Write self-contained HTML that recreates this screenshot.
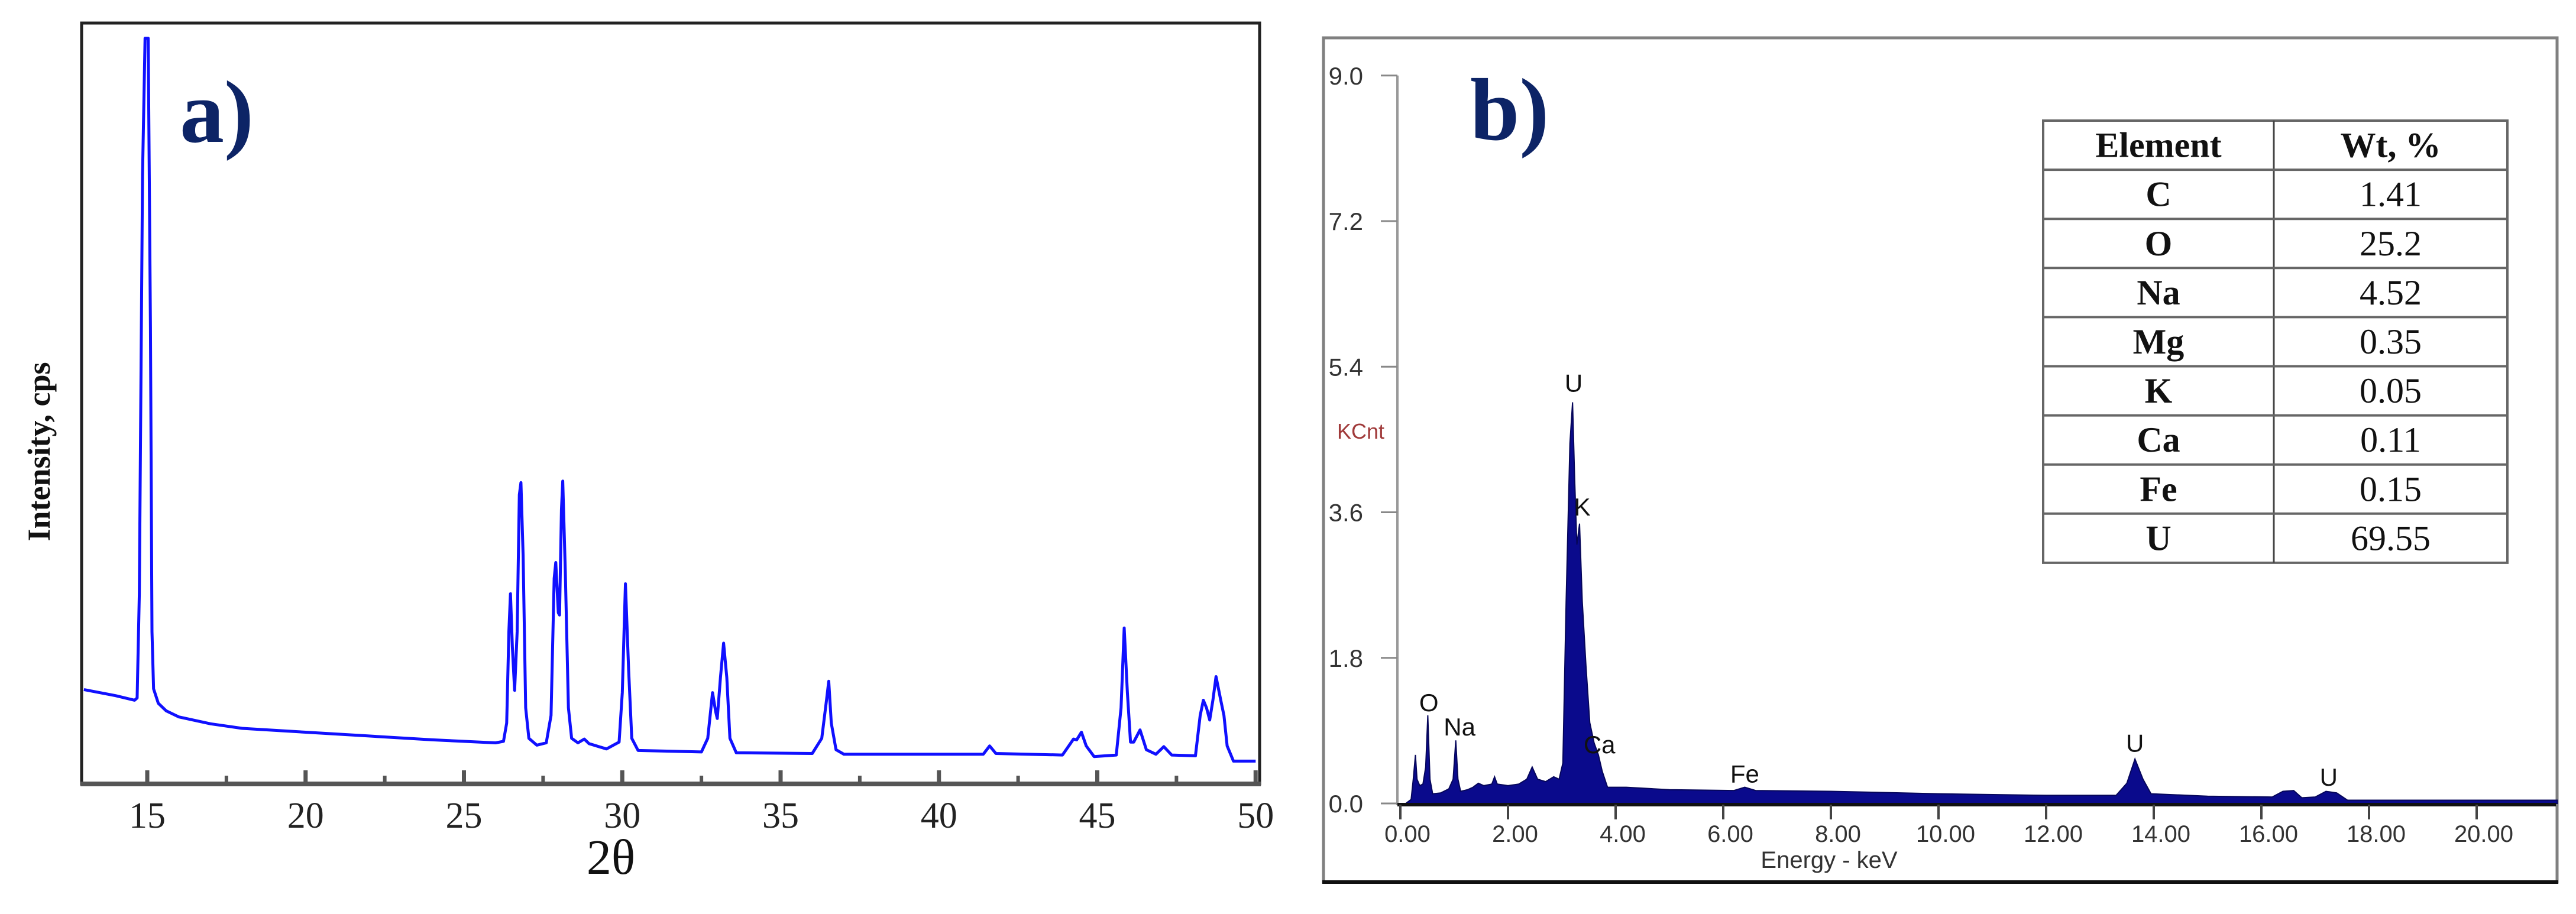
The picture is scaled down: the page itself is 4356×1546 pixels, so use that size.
<!DOCTYPE html>
<html><head><meta charset="utf-8"><style>
html,body{margin:0;padding:0;background:#fff;}
svg{display:block;}
</style></head><body>
<svg id="fig" width="4356" height="1546" viewBox="0 0 4356 1546" xmlns="http://www.w3.org/2000/svg">
  <g id="pa"></g>
  <g id="pb"></g>
  <text x="304" y="240" font-family="Liberation Serif, serif" font-weight="bold" font-size="150" fill="#0d2466">a)</text>
  <text x="2486" y="236" font-family="Liberation Serif, serif" font-weight="bold" font-size="150" fill="#0d2466">b)</text>
</svg>
<script>
// ---------- Panel a data (XRD) ----------
const twoTheta = [13.0,14.0,14.6,14.68,14.75,14.85,14.93,15.03,15.1,15.15,15.2,15.35,15.6,16.0,17,18,20,22,24,26,26.25,26.35,26.42,26.47,26.53,26.6,26.68,26.75,26.8,26.87,26.95,27.05,27.3,27.6,27.75,27.85,27.9,27.98,28.02,28.08,28.12,28.2,28.3,28.4,28.6,28.8,28.95,29.5,29.9,30.0,30.1,30.2,30.3,30.5,32.5,32.7,32.85,32.95,33.0,33.1,33.2,33.3,33.4,33.6,36.0,36.3,36.45,36.52,36.6,36.75,37,41.4,41.6,41.8,43.9,44.1,44.25,44.35,44.5,44.65,44.9,45.6,45.75,45.85,45.95,46.05,46.15,46.35,46.55,46.85,47.1,47.35,48.1,48.25,48.35,48.45,48.55,48.65,48.75,48.9,49.0,49.1,49.3,50];
const intensity = [12.4,11.6,11.0,11.3,25,80,98,98,60,20,12.5,10.6,9.6,8.8,7.9,7.3,6.8,6.3,5.8,5.4,5.6,8,20,25,18,12.3,20,38,39.6,30,10,6,5.1,5.4,9,27,29.1,22.5,22.2,36,39.8,28,10,6,5.4,5.9,5.3,4.6,5.5,12,26.3,15,6,4.4,4.2,6,12,9.5,8.6,14,18.5,14,6,4.1,4.0,6,11,13.5,8,4.5,3.9,3.9,5.0,4.0,3.8,5.0,5.9,5.8,6.8,5,3.6,3.8,10,20.5,12,5.5,5.5,7.1,4.5,3.9,4.9,3.8,3.7,9,11,10,8.4,11,14.1,11,9,5,3.0,3.0];
const aMajorTicks = [15,20,25,30,35,40,45,50];
const aMinorTicks = [17.5,22.5,27.5,32.5,37.5,42.5,47.5];

// ---------- Panel b data (EDS) ----------
const energy = [0.10,0.2,0.24,0.28,0.31,0.36,0.42,0.47,0.51,0.55,0.6,0.75,0.9,0.98,1.03,1.07,1.12,1.25,1.35,1.45,1.55,1.7,1.75,1.8,2.0,2.2,2.35,2.45,2.55,2.7,2.85,2.95,3.02,3.08,3.15,3.2,3.24,3.28,3.33,3.38,3.45,3.52,3.6,3.68,3.75,3.85,4.2,5,6.2,6.4,6.6,8,10,12,13.3,13.5,13.65,13.8,13.95,15,16.2,16.4,16.6,16.75,17.0,17.2,17.4,17.6,21.5];
const counts = [0,0.05,0.3,0.6,0.3,0.22,0.24,0.45,1.09,0.3,0.12,0.13,0.18,0.3,0.78,0.3,0.15,0.17,0.2,0.25,0.22,0.24,0.33,0.24,0.22,0.24,0.3,0.45,0.3,0.27,0.33,0.3,0.5,2.5,4.45,4.96,4.0,3.2,3.46,2.5,1.7,1.0,0.75,0.6,0.4,0.2,0.2,0.17,0.16,0.2,0.16,0.15,0.12,0.1,0.1,0.25,0.55,0.3,0.12,0.09,0.08,0.15,0.16,0.07,0.08,0.15,0.13,0.04,0.04];
const bYTicks = [0.0,1.8,3.6,5.4,7.2,9.0];
const bXTicks = [0,2,4,6,8,10,12,14,16,18,20];
const peakLabels = ["O","Na","U","K","Ca","Fe","U","U"];
const peakLabelE = [0.53,1.1,3.22,3.38,3.7,6.4,13.65,17.25];
const peakLabelC = [1.25,0.95,5.2,3.67,0.73,0.37,0.75,0.33];
const tableElements = ["C","O","Na","Mg","K","Ca","Fe","U"];
const tableWt = ["1.41","25.2","4.52","0.35","0.05","0.11","0.15","69.55"];

const NS = "http://www.w3.org/2000/svg";
function mk(parent, tag, attrs, text){
  const e = document.createElementNS(NS, tag);
  for (const k in attrs) e.setAttribute(k, attrs[k]);
  if (text !== undefined) e.textContent = text;
  parent.appendChild(e);
  return e;
}

// ---- Panel a ----
const pa = document.getElementById('pa');
const ax = t => 249 + (t - 15) * 53.55;
const ay = v => 1326 - v * 12.87;
let el;
el = mk(pa,'rect',{x:138,y:39,width:1992,height:1287,fill:'none',stroke:'#222','stroke-width':5});


el = mk(pa,'line',{x1:136,y1:1326,x2:2132,y2:1326,stroke:'#555','stroke-width':8});


aMajorTicks.forEach(t=>{
  const tk = mk(pa,'line',{x1:ax(t),y1:1326,x2:ax(t),y2:1303,stroke:'#555','stroke-width':7});
  
  
  const lb = mk(pa,'text',{x:ax(t),y:1400,'text-anchor':'middle','font-family':'Liberation Serif, serif','font-size':62,fill:'#222'}, String(t));
  
  
});
aMinorTicks.forEach(t=>{
  const tk = mk(pa,'line',{x1:ax(t),y1:1326,x2:ax(t),y2:1312,stroke:'#555','stroke-width':6});
  
  
});
let d = '';
twoTheta.forEach((t,i)=>{ d += (i?'L':'M') + ax(t).toFixed(1) + ' ' + ay(intensity[i]).toFixed(1) + ' '; });
el = mk(pa,'path',{d:d,fill:'none',stroke:'#1010ff','stroke-width':5,'stroke-linejoin':'round'});


el = mk(pa,'text',{x:1033,y:1478,'text-anchor':'middle','font-family':'Liberation Serif, serif','font-size':84,fill:'#111'},'2θ');


el = mk(pa,'text',{x:0,y:0,transform:'translate(84,764) rotate(-90)','text-anchor':'middle','font-family':'Liberation Serif, serif','font-weight':'bold','font-size':54,fill:'#111'},'Intensity, cps');



// ---- Panel b ----
const pb = document.getElementById('pb');
const bx = e => 2368 + e * 91;
const by = c => 1359 - c * 136.8;
el = mk(pb,'rect',{x:2238,y:64,width:2086,height:1428,fill:'none',stroke:'#808080','stroke-width':5});


el = mk(pb,'line',{x1:2236,y1:1492,x2:4326,y2:1492,stroke:'#111','stroke-width':6});


el = mk(pb,'line',{x1:2363,y1:by(9.0),x2:2363,y2:1362,stroke:'#999','stroke-width':4});


bYTicks.forEach(v=>{
  const tk = mk(pb,'line',{x1:2335,y1:by(v),x2:2363,y2:by(v),stroke:'#888','stroke-width':3});
  
  
  const lb = mk(pb,'text',{x:2305,y:by(v)+15,'text-anchor':'end','font-family':'Liberation Sans, sans-serif','font-size':42,fill:'#333'}, v.toFixed(1));
  
  
});
el = mk(pb,'text',{x:2301,y:742,'text-anchor':'middle','font-family':'Liberation Sans, sans-serif','font-size':36,fill:'#a03a3a'},'KCnt');


let pd = 'M' + bx(energy[0]) + ' ' + by(0) + ' ';
energy.forEach((e,i)=>{ pd += 'L' + bx(e).toFixed(1) + ' ' + by(counts[i]).toFixed(1) + ' '; });
pd += 'L' + bx(energy[energy.length-1]) + ' ' + by(0) + ' Z';
el = mk(pb,'path',{d:pd,fill:'#0a0a8c',stroke:'#06065a','stroke-width':2});


el = mk(pb,'line',{x1:2363,y1:1361,x2:4322,y2:1361,stroke:'#111','stroke-width':6});


bXTicks.forEach(v=>{
  const tk = mk(pb,'line',{x1:bx(v),y1:1361,x2:bx(v),y2:1386,stroke:'#444','stroke-width':4});
  
  
  const lb = mk(pb,'text',{x:bx(v)+12,y:1424,'text-anchor':'middle','font-family':'Liberation Sans, sans-serif','font-size':40,fill:'#333'}, v.toFixed(2));
  
  
});
el = mk(pb,'text',{x:3093,y:1468,'text-anchor':'middle','font-family':'Liberation Sans, sans-serif','font-size':40,fill:'#333'},'Energy - keV');


peakLabels.forEach((s,i)=>{
  const t = mk(pb,'text',{x:bx(peakLabelE[i]),y:by(peakLabelC[i])+15,'text-anchor':'middle','font-family':'Liberation Sans, sans-serif','font-size':42,fill:'#111'}, s);
  
  
});

// table
const tx0 = 3455, tx1 = 3845, tx2 = 4240, ty0 = 204, rh = 83.1;
const tb = mk(pb,'g',{});


const rows = [["Element","Wt, %"]].concat(tableElements.map((e,i)=>[e,tableWt[i]]));
mk(tb,'rect',{x:tx0,y:ty0,width:tx2-tx0,height:rh*rows.length,fill:'#fff',stroke:'#666','stroke-width':4});
mk(tb,'line',{x1:tx1,y1:ty0,x2:tx1,y2:ty0+rh*rows.length,stroke:'#444','stroke-width':3});
rows.forEach((r,i)=>{
  if (i>0) mk(tb,'line',{x1:tx0,y1:ty0+rh*i,x2:tx2,y2:ty0+rh*i,stroke:'#666','stroke-width':4});
  const cy = ty0 + rh*i + rh/2 + 20;
  const c1 = mk(tb,'text',{x:(tx0+tx1)/2,y:cy,'text-anchor':'middle','font-family':'Liberation Serif, serif','font-weight':'bold','font-size':60,fill:'#111'}, r[0]);
  
  
  const c2 = mk(tb,'text',{x:(tx1+tx2)/2,y:cy,'text-anchor':'middle','font-family':'Liberation Serif, serif','font-weight':i===0?'bold':'normal','font-size':60,fill:'#111'}, r[1]);
  
  
});
</script>
</body></html>
